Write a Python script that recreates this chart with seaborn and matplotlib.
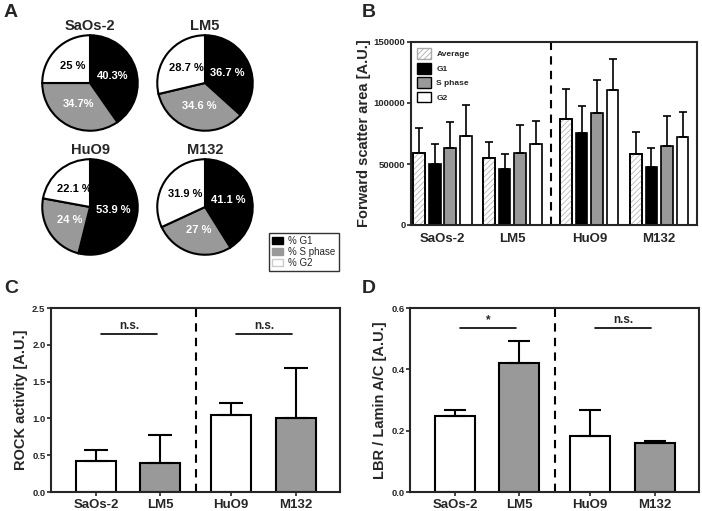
import pandas as pd
import seaborn as sns
import matplotlib.pyplot as plt
from matplotlib.patches import Patch, Rectangle

# cell lines and phases
cell_lines = ["SaOs-2", "LM5", "HuO9", "M132"]
line_colors = ["white", "#999999", "white", "#999999"]

# A: cell cycle distribution per line (%)
pie_g1 = [40.3, 36.7, 53.9, 41.1]
pie_s = [34.7, 34.6, 24, 27]
pie_g2 = [25, 28.7, 22.1, 31.9]
pie_texts = [["40.3%", "34.7%", "25 %"],
             ["36.7 %", "34.6 %", "28.7 %"],
             ["53.9 %", "24 %", "22.1 %"],
             ["41.1 %", "27 %", "31.9 %"]]
pie_legend = ["% G1", "% S phase", "% G2"]

# B: forward scatter area, mean + SD
fsc_phases = ["Average", "G1", "S phase", "G2"]
fsc_average = [58700, 54600, 86700, 58400]
fsc_average_sd = [20900, 13600, 25100, 17700]
fsc_g1 = [49900, 45500, 75000, 47700]
fsc_g1_sd = [16900, 12300, 22400, 15300]
fsc_s = [63500, 58900, 91900, 64600]
fsc_s_sd = [21300, 22900, 27300, 24900]
fsc_g2 = [72800, 66800, 111000, 72300]
fsc_g2_sd = [25600, 18800, 25400, 20400]

# C: ROCK activity
rock_mean = [0.42, 0.40, 1.05, 1.00]
rock_sd = [0.15, 0.37, 0.16, 0.68]

# D: LBR / Lamin A/C
lbr_mean = [0.247, 0.421, 0.183, 0.161]
lbr_sd = [0.019, 0.072, 0.083, 0.005]

GRAY = "#999999"
GROUP_GAP = 0.1
pos = [i + (GROUP_GAP if i >= 2 else 0) for i in range(len(cell_lines))]
split = (pos[1] + pos[2]) / 2

sns.set_theme(style="ticks")
plt.rcParams['font.family'] = ['Liberation Sans', 'DejaVu Sans']
plt.rcParams['axes.linewidth'] = 1.5
plt.rcParams['hatch.linewidth'] = 0.6

W, H = 702, 511
fig = plt.figure(figsize=(W / 100, H / 100), dpi=100)


def px_axes(x0, y0, x1, y1):
    return fig.add_axes([x0 / W, 1 - y1 / H, (x1 - x0) / W, (y1 - y0) / H])


# ---- A: pies
pie_centers = [(90, 83), (205, 83), (90, 207), (205, 207)]
r = 48.7
for i, name in enumerate(cell_lines):
    cx, cy = pie_centers[i]
    ax = px_axes(cx - r, cy - r, cx + r, cy + r)
    labels = iter(pie_texts[i])
    wedges, _, autotexts = ax.pie(
        [pie_g1[i], pie_s[i], pie_g2[i]],
        colors=["black", GRAY, "white"], startangle=90, counterclock=False,
        autopct=lambda p: next(labels), pctdistance=0.5,
        wedgeprops=dict(edgecolor="black", linewidth=1.5))
    for t, c in zip(autotexts, ["white", "white", "black"]):
        t.set_color(c)
        t.set_fontsize(8)
        t.set_fontweight("bold")
    ax.set_xlim(-1.02, 1.02)
    ax.set_ylim(-1.02, 1.02)
    ax.set_title(name, fontsize=10.5, fontweight="bold", pad=3)

fig.legend(handles=[Patch(facecolor="black", edgecolor="black"),
                    Patch(facecolor=GRAY, edgecolor=GRAY),
                    Patch(facecolor="white", edgecolor="#cccccc")],
           labels=pie_legend, loc="upper left",
           bbox_to_anchor=(269 / W, 1 - 233 / H), fontsize=7,
           frameon=True, fancybox=False, edgecolor="black",
           handlelength=1.1, handleheight=0.7, borderpad=0.3,
           labelspacing=0.1, handletextpad=0.6, borderaxespad=0)

# ---- B: forward scatter
fsc_means = [fsc_average, fsc_g1, fsc_s, fsc_g2]
fsc_sds = [fsc_average_sd, fsc_g1_sd, fsc_s_sd, fsc_g2_sd]
fsc_df = pd.DataFrame({
    "pos": pos * len(fsc_phases),
    "phase": [p for p in fsc_phases for _ in cell_lines],
    "value": [v for m in fsc_means for v in m],
})
ax_b = px_axes(411, 42, 697, 225)
sns.barplot(data=fsc_df, x="pos", y="value", hue="phase", hue_order=fsc_phases,
            palette=dict(zip(fsc_phases, ["white", "black", GRAY, "white"])),
            native_scale=True, width=0.89, gap=0.25, edgecolor="black",
            linewidth=1.2, errorbar=None, legend=False, ax=ax_b)
for bar in ax_b.containers[0]:
    ax_b.add_patch(Rectangle(bar.get_xy(), bar.get_width(), bar.get_height(),
                             fill=False, hatch="//////", edgecolor="#b8b8b8",
                             linewidth=0, zorder=bar.get_zorder() + 0.1))
    ax_b.add_patch(Rectangle(bar.get_xy(), bar.get_width(), bar.get_height(),
                             fill=False, edgecolor="black", linewidth=1.2,
                             zorder=bar.get_zorder() + 0.2))
for cont, sds in zip(ax_b.containers, fsc_sds):
    xs = [b.get_x() + b.get_width() / 2 for b in cont]
    ys = [b.get_height() for b in cont]
    ax_b.errorbar(xs, ys, yerr=[[0] * len(sds), sds], fmt="none",
                  ecolor="black", elinewidth=1.2, capsize=3, capthick=1.2,
                  zorder=1)
ax_b.axvline(split, color="black", linewidth=1.5, linestyle=(0, (4, 3)))
ax_b.set_xlim(-0.45, 3.64)
ax_b.set_ylim(0, 150000)
ax_b.set_yticks([0, 50000, 100000, 150000])
ax_b.set_xticks(pos, labels=cell_lines)
ax_b.set_xlabel("")
ax_b.set_ylabel("Forward scatter area [A.U.]", fontsize=10.5, fontweight="bold",
                labelpad=2)
ax_b.tick_params(axis="x", length=0, labelsize=9.5, pad=6)
ax_b.tick_params(axis="y", length=3, width=1.2, labelsize=6.8, pad=1)
ax_b.legend(handles=[Patch(facecolor="white", edgecolor="#aaaaaa", hatch="//////"),
                     Patch(facecolor="black", edgecolor="black"),
                     Patch(facecolor=GRAY, edgecolor="black"),
                     Patch(facecolor="white", edgecolor="black")],
            labels=fsc_phases, loc="upper left", bbox_to_anchor=(0.022, 0.965),
            frameon=False, prop=dict(size=6, weight="bold"),
            handlelength=1.6, handleheight=1.6, labelspacing=0.45,
            handletextpad=0.7, borderaxespad=0, borderpad=0)


# ---- C and D
def bar_panel(box, means, sds, ylim, yticks, ylabel, sig, sig_y, text_off, cap):
    ax = px_axes(*box)
    sns.barplot(x=pos, y=means, hue=cell_lines,
                palette=dict(zip(cell_lines, line_colors)), native_scale=True,
                width=0.62, edgecolor="black", linewidth=1.5, errorbar=None,
                legend=False, ax=ax)
    bars = [b for c in ax.containers for b in c]
    bars.sort(key=lambda b: b.get_x())
    xs = [b.get_x() + b.get_width() / 2 for b in bars]
    ax.errorbar(xs, means, yerr=[[0] * len(sds), sds], fmt="none",
                ecolor="black", elinewidth=1.5, capsize=cap, capthick=1.5,
                zorder=1)
    ax.axvline(split, color="black", linewidth=1.5, linestyle=(0, (4, 3)))
    for (a, b), txt in zip([(0, 1), (2, 3)], sig):
        x0, x1 = pos[a] + 0.08, pos[b] - 0.06
        ax.plot([x0, x1], [sig_y, sig_y], color="black", linewidth=1.2)
        ax.text((x0 + x1) / 2, sig_y + text_off, txt, ha="center",
                va="bottom", fontsize=8.5, fontweight="bold")
    ax.set_xlim(-0.70, 3.79)
    ax.set_ylim(*ylim)
    ax.set_yticks(yticks)
    ax.set_xticks(pos, labels=cell_lines)
    ax.set_ylabel(ylabel, fontsize=10.5, fontweight="bold", labelpad=3)
    ax.tick_params(axis="x", length=3, width=1.2, labelsize=9.5, pad=2)
    ax.tick_params(axis="y", length=3, width=1.2, labelsize=6.8, pad=1)
    return ax


ax_c = bar_panel((51, 308, 340, 492), rock_mean, rock_sd, (0, 2.5),
                 [0.0, 0.5, 1.0, 1.5, 2.0, 2.5], "ROCK activity [A.U.]",
                 ["n.s.", "n.s."], 2.15, 0.02, 8.5)
ax_c.yaxis.set_major_formatter(plt.FormatStrFormatter("%.1f"))
ax_d = bar_panel((410, 308, 699, 492), lbr_mean, lbr_sd, (0, 0.6),
                 [0.0, 0.2, 0.4, 0.6], "LBR / Lamin A/C [A.U.]",
                 ["*", "n.s."], 0.535, 0.005, 8)
ax_d.yaxis.set_major_formatter(plt.FormatStrFormatter("%.1f"))

for ax in fig.axes[4:]:
    for lab in ax.get_xticklabels() + ax.get_yticklabels():
        lab.set_fontweight("bold")
    for s in ax.spines.values():
        s.set_linewidth(1.5)
        s.set_visible(True)

# panel letters
for letter, x, y in [("A", 4, 4), ("B", 362, 4), ("C", 4, 280), ("D", 362, 280)]:
    fig.text(x / W, 1 - y / H, letter, fontsize=14, fontweight="bold",
             ha="left", va="top")

fig.savefig("out.png", dpi=100)
